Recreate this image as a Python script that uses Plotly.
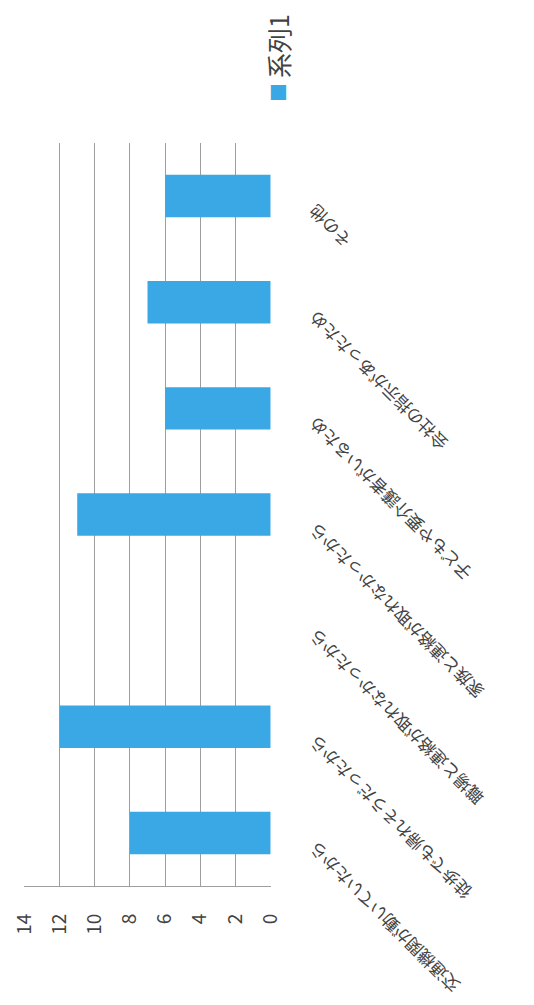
import plotly.graph_objects as go

categories = [
    "交通機関が動いていたから",
    "徒歩でも帰れそうだったから",
    "職場と連絡が取れなかったから",
    "家族と連絡が取れなかったから",
    "子どもや要介護者がいるため",
    "会社の指示があったため",
    "その他",
]
values = [8, 12, 0, 11, 6, 7, 6]
series_name = "系列1"
value_ticks = [0, 2, 4, 6, 8, 10, 12, 14]

BAR = "#3aa8e4"
GRID = "#9e9e9e"
TXT = "#424242"
FONT = "Noto Sans CJK JP"

# the page body has an 8px margin, so the figure is offset by 8px
L, T, B = 16, 135, 127
W = 534 - L
H = 1005 - T - B

fig = go.Figure()
fig.add_trace(go.Bar(
    x=values, y=categories, orientation="h",
    marker=dict(color=BAR, line=dict(width=0)),
    name=series_name, showlegend=False,
))

fig.update_layout(
    width=534, height=1005,
    margin=dict(l=L, r=0, t=T, b=B),
    paper_bgcolor="white", plot_bgcolor="white",
    font=dict(family=FONT, color=TXT),
    bargap=0.6,
    xaxis=dict(
        domain=[0, 247 / W], range=[14.03, -0.03], anchor="y",
        tickvals=value_ticks, tickangle=-90, automargin=False,
        showgrid=True, gridcolor=GRID, gridwidth=1,
        showline=True, linecolor=GRID, linewidth=1,
        zeroline=False, ticks="",
        tickfont=dict(size=19, color=TXT, family=FONT),
        ticklabelstandoff=19,
    ),
    yaxis=dict(
        type="category", categoryorder="array", categoryarray=categories,
        range=[-0.5, 6.5], side="left", anchor="free", position=(311 - 8 - L) / W,
        automargin=False,
        showgrid=False, showline=False, zeroline=False, ticks="",
        tickangle=-135, ticklabelshift=16,
        tickfont=dict(size=17, color=TXT, family=FONT),
    ),
)

# legend drawn as rotated text, like the scanned page
leg_x = (278 - 8 - L) / W
fig.add_annotation(
    xref="paper", yref="paper", x=leg_x, y=1 + (143 - 93) / H,
    text="■", textangle=-90, showarrow=False,
    font=dict(size=19, color=BAR, family=FONT),
    xanchor="center", yanchor="middle",
)
fig.add_annotation(
    xref="paper", yref="paper", x=leg_x, y=1 + (143 - 46) / H,
    text=series_name, textangle=-90, showarrow=False,
    font=dict(size=25, color=TXT, family=FONT),
    xanchor="center", yanchor="middle",
)

fig.write_html("out.html")
